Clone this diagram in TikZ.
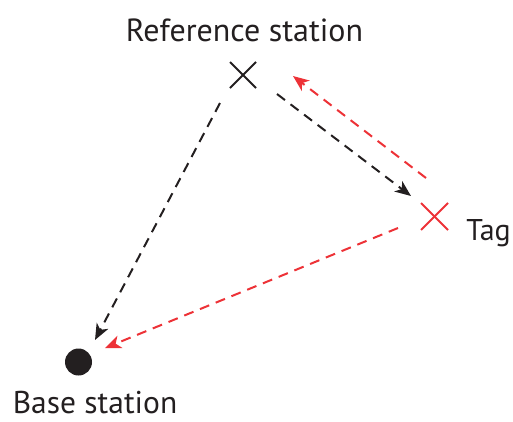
\documentclass[tikz,border=0pt]{standalone}
\usepackage{fontspec}
\setmainfont{PT Sans}
\usetikzlibrary{arrows.meta,calc}
\definecolor{ink}{RGB}{35,31,32}
\definecolor{sred}{RGB}{237,50,55}
\tikzset{
  conn/.style={line width=2pt, dash pattern=on 10pt off 7pt,
    -{Stealth[length=16pt,width=13pt,inset=4.5pt]}},
  crossmark/.style={line width=1.9pt},
  lbl/.style={font=\fontsize{32}{38}\selectfont, text=ink, inner sep=0pt, anchor=base}
}
\begin{document}
\begin{tikzpicture}[x=1pt,y=-1pt]
\useasboundingbox (0,0) rectangle (513,421);
% stations
\coordinate (ref) at (243,75);
\coordinate (tag) at (434.5,216.5);
\node[circle, fill=ink, minimum size=27pt, inner sep=0pt] (base) at (78.5,362) {};
\draw[crossmark, ink] ($(ref)+(-13,-13)$) -- ($(ref)+(13,13)$);
\draw[crossmark, ink] ($(ref)+(-13,13)$) -- ($(ref)+(13,-13)$);
\draw[crossmark, sred] ($(tag)+(-13.5,-13.5)$) -- ($(tag)+(13.5,13.5)$);
\draw[crossmark, sred] ($(tag)+(-13.5,13.5)$) -- ($(tag)+(13.5,-13.5)$);
% labels
\node[lbl] (reflbl) at (244.5,41) {Reference station};
\node[lbl, font=\fontsize{31.5}{36}\selectfont] (baselbl) at (95,413) {Base station};
\node[lbl, anchor=base east, font=\fontsize{30}{36}\selectfont] (taglbl) at (511,240) {Tag};
% connector end points
\coordinate (rb1) at (220,103);
\coordinate (rb2) at (95,340);
\coordinate (rt1) at (277,94);
\coordinate (rt2) at (411,196);
\coordinate (tr1) at (426,178);
\coordinate (tr2) at (293,76);
\coordinate (tb1) at (398,228);
\coordinate (tb2) at (105,348);
\draw[conn, ink] (rb1) -- (rb2);
\draw[conn, ink] (rt1) -- (rt2);
\draw[conn, sred] (tr1) -- (tr2);
\draw[conn, sred] (tb1) -- (tb2);
\end{tikzpicture}
\end{document}
